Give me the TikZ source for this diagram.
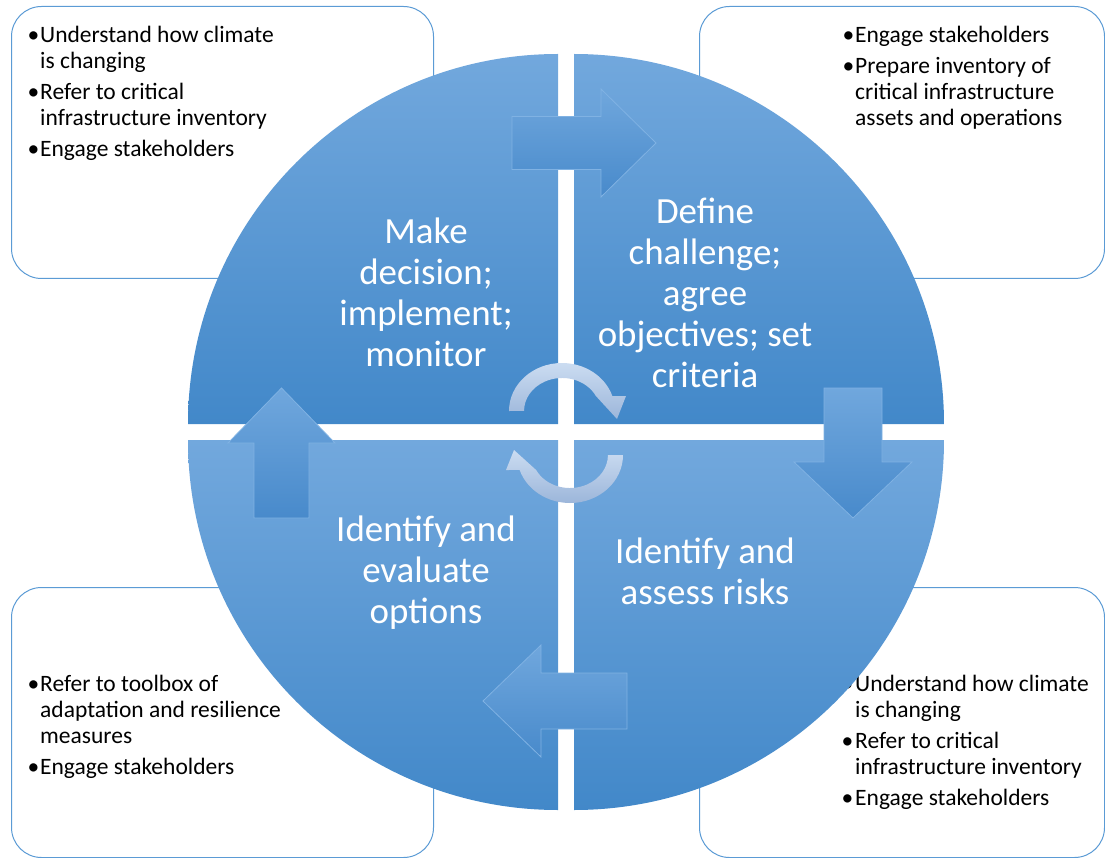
\documentclass[tikz,border=0pt]{standalone}
\usepackage{fontspec}
\setmainfont{Carlito}
\newcommand\bu{\hspace*{0.5pt}•}
\begin{document}
\begin{tikzpicture}[x=1pt,y=-1pt]
\definecolor{qtop}{RGB}{114,168,221}
\definecolor{qbot}{RGB}{66,136,201}
\definecolor{atop}{RGB}{112,167,221}
\definecolor{abot}{RGB}{72,138,203}
\definecolor{aline}{RGB}{128,178,227}
\definecolor{ctop}{RGB}{203,220,241}
\definecolor{cbot}{RGB}{156,182,218}
\definecolor{boxline}{RGB}{91,155,213}
\tikzset{
 quad/.style={top color=qtop, bottom color=qbot, draw=none},
 flow/.style={top color=atop, bottom color=abot, draw=aline, line width=0.8pt, line join=miter},
 cyc/.style={top color=ctop, bottom color=cbot, draw=none},
 sidebox/.style={draw=boxline, line width=1pt, rounded corners=30pt, fill=white, anchor=north west, inner sep=0pt},
 note/.style={anchor=north west, inner sep=0pt, font=\fontsize{23.5}{26}\selectfont},
 big/.style={text=white, font=\fontsize{36.9}{41}\selectfont, align=center, inner sep=0pt}
}
\path[use as bounding box] (0,0) rectangle (1105,858);

% side boxes
\node[sidebox, minimum width=422pt, minimum height=272pt] (boxTL) at (11,6) {};
\node[sidebox, minimum width=405pt, minimum height=272pt] (boxTR) at (699,6) {};
\node[sidebox, minimum width=422pt, minimum height=270pt] (boxBL) at (11,587) {};
\node[sidebox, minimum width=405pt, minimum height=270pt] (boxBR) at (699,587) {};

\node[note] (nTL) at (27,23.8) {\begin{tabular}{@{}p{13pt}@{}l@{}}
\bu & Understand how climate\\ & is changing\\[5pt]
\bu & Refer to critical\\ & infrastructure inventory\\[5pt]
\bu & Engage stakeholders\end{tabular}};
\node[note] (nTR) at (842,23.8) {\begin{tabular}{@{}p{13pt}@{}l@{}}
\bu & Engage stakeholders\\[5pt]
\bu & Prepare inventory of\\ & critical infrastructure\\ & assets and operations\end{tabular}};
\node[note] (nBL) at (27,672.8) {\begin{tabular}{@{}p{13pt}@{}l@{}}
\bu & Refer to toolbox of\\ & adaptation and resilience\\ & measures\\[5pt]
\bu & Engage stakeholders\end{tabular}};
\node[note] (nBR) at (841,672.8) {\begin{tabular}{@{}p{14pt}@{}l@{}}
\bu & Understand how climate\\ & is changing\\[5pt]
\bu & Refer to critical\\ & infrastructure inventory\\[5pt]
\bu & Engage stakeholders\end{tabular}};

% quadrants
\shade[quad] (558,424) -- (188,424) arc[start angle=180, end angle=270, radius=370] -- cycle;
\shade[quad] (574,424) -- (574,54) arc[start angle=270, end angle=360, radius=370] -- cycle;
\shade[quad] (574,440) -- (944,440) arc[start angle=0, end angle=90, radius=370] -- cycle;
\shade[quad] (558,440) -- (558,810) arc[start angle=90, end angle=180, radius=370] -- cycle;

% block arrows
\shadedraw[flow] (512,116.5) -- (601,116.5) -- (601,89) -- (656,143) -- (601,197) -- (601,169.5) -- (512,169.5) -- cycle;
\shadedraw[flow] (824,388) -- (882,388) -- (882,462) -- (912,462) -- (853,518) -- (794,462) -- (824,462) -- cycle;
\shadedraw[flow] (627,673) -- (627,729) -- (541,729) -- (541,757) -- (483,701) -- (541,645) -- (541,673) -- cycle;
\shadedraw[flow] (309,518) -- (254,518) -- (254,443) -- (228,443) -- (281.5,388) -- (335,443) -- (309,443) -- cycle;

% centre cycle arrows
\shade[cyc] (509,411) arc[start angle=180, end angle=341.8, x radius=53, y radius=48]
  -- (626,396) -- (617,419) -- (595.9,396)
  arc[start angle=333, end angle=180, x radius=38, y radius=33] -- cycle;
\shade[cyc] (623,455) arc[start angle=0, end angle=161.8, x radius=53, y radius=48]
  -- (506,470) -- (514,450) -- (536.1,470)
  arc[start angle=153, end angle=0, x radius=38, y radius=33] -- cycle;

% step texts
\node[big] (t1) at (426,292) {Make\\decision;\\implement;\\monitor};
\node[big] (t2) at (705,293) {Define\\challenge;\\agree\\objectives; set\\criteria};
\node[big] (t3) at (426,573) {Identify and\\evaluate\\options};
\node[big] (t4) at (705,571) {Identify and\\assess risks};
\end{tikzpicture}
\end{document}
